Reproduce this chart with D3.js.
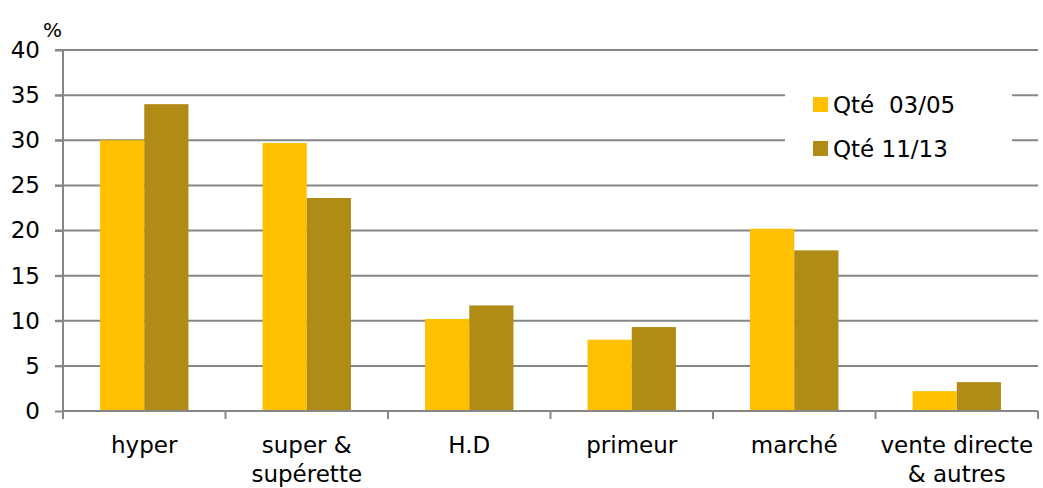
<!DOCTYPE html>
<html>
<head>
<meta charset="utf-8">
<script src="https://cdn.jsdelivr.net/npm/d3@7"></script>
<style>
  body { margin: 0; background: #fff; }
  text { font-family: "DejaVu Sans", sans-serif; fill: #000; }
</style>
</head>
<body>
<div id="chart"></div>
<script>
// data
const categories = [["hyper"], ["super &", "supérette"], ["H.D"], ["primeur"], ["marché"], ["vente directe", "& autres"]];
const seriesNames = ["Qté  03/05", "Qté 11/13"];
const qte0305 = [30.0, 29.7, 10.2, 7.9, 20.2, 2.2];
const qte1113 = [34.0, 23.6, 11.7, 9.3, 17.8, 3.2];
const yTicks = [0, 5, 10, 15, 20, 25, 30, 35, 40];
const colors = ["#FFC000", "#B08C16"];

const W = 1043, H = 488;
const margin = { top: 50, right: 5, bottom: 77, left: 63 };
const width = W - margin.left - margin.right,
      height = H - margin.top - margin.bottom;

const svg = d3.select('#chart').append('svg')
    .attr('width', W)
    .attr('height', H);

const g = svg.append('g')
    .attr('transform', `translate(${margin.left},${margin.top})`);

const x0 = d3.scaleBand()
    .domain(d3.range(categories.length))
    .range([0, width])
    .padding(0);

const gap = x0.bandwidth() * 0.228;
const x1 = d3.scaleBand()
    .domain([0, 1])
    .range([gap, x0.bandwidth() - gap])
    .padding(0);

const y = d3.scaleLinear()
    .domain([0, 40])
    .range([height, 0]);

// gridlines
g.selectAll('.grid')
    .data(yTicks.slice(1))
    .enter().append('line')
    .attr('class', 'grid')
    .attr('x1', -8)
    .attr('x2', width)
    .attr('y1', d => y(d))
    .attr('y2', d => y(d))
    .attr('stroke', '#868686')
    .attr('stroke-width', 2);

// bars
const series = [qte0305, qte1113];
series.forEach((vals, s) => {
    g.selectAll('.bar' + s)
        .data(vals)
        .enter().append('rect')
        .attr('class', 'bar' + s)
        .attr('x', (d, i) => x0(i) + x1(s))
        .attr('y', d => y(d))
        .attr('width', x1.bandwidth())
        .attr('height', d => height - y(d))
        .attr('fill', colors[s]);
});

// y axis
const yAxis = g.append('g')
    .call(d3.axisLeft(y).tickValues(yTicks).tickSize(8).tickSizeOuter(0));
yAxis.select('.domain').remove();
yAxis.selectAll('.tick line').attr('stroke', '#868686').attr('stroke-width', 2);
yAxis.selectAll('.tick text')
    .attr('x', -23)
    .style('font-size', '23px')
    .style('font-family', '"DejaVu Sans", sans-serif');

g.append('line')
    .attr('x1', 0).attr('x2', 0)
    .attr('y1', 0).attr('y2', height + 8)
    .attr('stroke', '#868686').attr('stroke-width', 2);

g.append('text')
    .attr('x', -20)
    .attr('y', -13)
    .style('font-size', '20px')
    .text('%');

// x axis
g.append('line')
    .attr('x1', 0).attr('x2', width)
    .attr('y1', height).attr('y2', height)
    .attr('stroke', '#868686').attr('stroke-width', 2);

g.selectAll('.xtick')
    .data(d3.range(categories.length + 1))
    .enter().append('line')
    .attr('class', 'xtick')
    .attr('x1', d => d < categories.length ? x0(d) : width)
    .attr('x2', d => d < categories.length ? x0(d) : width)
    .attr('y1', height)
    .attr('y2', height + 8)
    .attr('stroke', '#868686').attr('stroke-width', 2);

const labels = g.selectAll('.xlabel')
    .data(categories)
    .enter().append('text')
    .attr('class', 'xlabel')
    .attr('text-anchor', 'middle')
    .attr('transform', (d, i) => `translate(${x0(i) + x0.bandwidth() / 2},${height + 42})`)
    .style('font-size', '23px');

labels.selectAll('tspan')
    .data(d => d)
    .enter().append('tspan')
    .attr('x', 0)
    .attr('dy', (d, i) => i === 0 ? 0 : 29)
    .text(d => d);

// legend
const legend = svg.append('g')
    .attr('transform', 'translate(785,75)');
legend.append('rect')
    .attr('width', 227)
    .attr('height', 96)
    .attr('fill', '#fff');
seriesNames.forEach((name, s) => {
    legend.append('rect')
        .attr('x', 28)
        .attr('y', 22 + s * 44)
        .attr('width', 15)
        .attr('height', 15)
        .attr('fill', colors[s]);
    legend.append('text')
        .attr('x', 48)
        .attr('y', 38 + s * 44)
        .style('font-size', '23px')
        .style('white-space', 'pre')
        .text(name);
});
</script>
</body>
</html>
